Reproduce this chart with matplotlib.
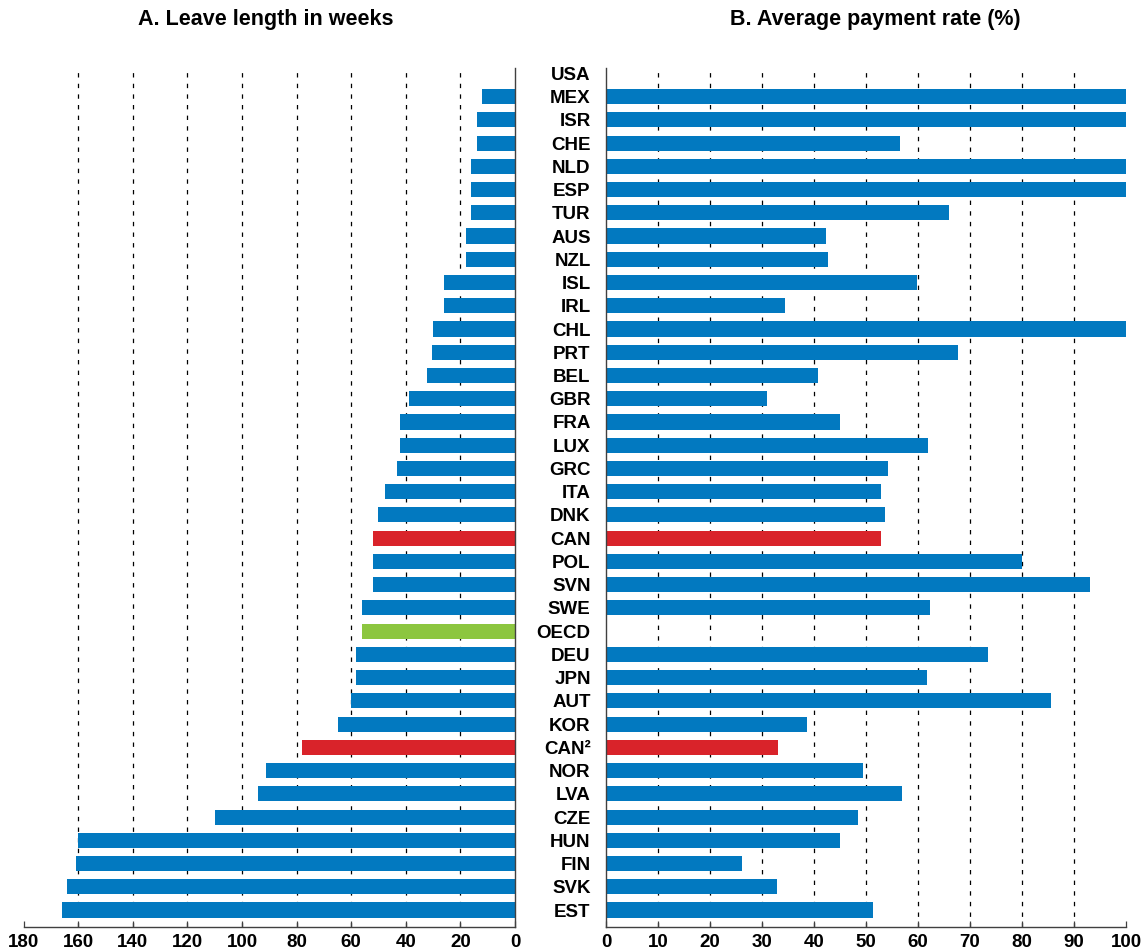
import numpy as np
import matplotlib
matplotlib.use("Agg")
import matplotlib.pyplot as plt

plt.rcParams['font.family'] = ['Liberation Sans', 'DejaVu Sans']
plt.rcParams['font.weight'] = 'bold'

countries = ["USA", "MEX", "ISR", "CHE", "NLD", "ESP", "TUR", "AUS", "NZL", "ISL",
             "IRL", "CHL", "PRT", "BEL", "GBR", "FRA", "LUX", "GRC", "ITA", "DNK",
             "CAN", "POL", "SVN", "SWE", "OECD", "DEU", "JPN", "AUT", "KOR", "CAN²",
             "NOR", "LVA", "CZE", "HUN", "FIN", "SVK", "EST"]

leave_weeks = [0, 12, 14, 14, 16, 16, 16, 18, 18, 26,
               26, 30, 30.4, 32.2, 39, 42, 42, 43.2, 47.6, 50.2,
               52.2, 52, 52, 56, 56, 58.4, 58.4, 60, 65, 78,
               91.2, 94, 110, 160, 161, 164, 166]

payment_rate = [0, 100, 100, 56.5, 100, 100, 66, 42.4, 42.6, 59.8,
                34.4, 100, 67.7, 40.8, 31, 45, 61.9, 54.2, 52.9, 53.7,
                52.9, 80, 93, 62.4, 0, 73.4, 61.7, 85.5, 38.7, 33.1,
                49.5, 56.9, 48.4, 45, 26.1, 32.8, 51.3]

left_ticks = [0, 20, 40, 60, 80, 100, 120, 140, 160, 180]
right_ticks = [0, 10, 20, 30, 40, 50, 60, 70, 80, 90, 100]

BLUE = "#0279c0"
RED = "#d9232a"
GREEN = "#8cc63f"


def bar_color(name):
    if name.startswith("CAN"):
        return RED
    if name == "OECD":
        return GREEN
    return BLUE


colors = [bar_color(c) for c in countries]
y = np.arange(len(countries))

W, H = 1147, 950
fig = plt.figure(figsize=(W / 100, H / 100), dpi=100)
ax1 = fig.add_axes([23.7 / W, 1 - 927 / H, (515 - 23.7) / W, (927 - 68) / H])
ax2 = fig.add_axes([606 / W, 1 - 927 / H, (1126 - 606) / W, (927 - 68) / H])

grid_kw = dict(color="black", linewidth=0.9, linestyle=(0, (3.5, 5)), zorder=0)

# Panel A
ax1.barh(y, leave_weeks, height=0.65, color=colors, zorder=2)
for t in left_ticks[1:-1]:
    ax1.axvline(t, **grid_kw)
ax1.set_xlim(180, 0)
ax1.set_xticks(left_ticks)
ax1.set_yticks([])

# Panel B
ax2.barh(y, payment_rate, height=0.65, color=colors, zorder=2)
for t in right_ticks[1:-1]:
    ax2.axvline(t, **grid_kw)
ax2.set_xlim(0, 100)
ax2.set_xticks(right_ticks)
ax2.set_yticks(y)
ax2.set_yticklabels(countries)

for ax in (ax1, ax2):
    ax.set_ylim(len(countries) - 1 + 0.73, -0.23)
    ax.spines['top'].set_visible(False)
    for s in ax.spines.values():
        s.set_color("#404040")
        s.set_linewidth(1.0)
    ax.tick_params(axis='x', direction='in', length=4, width=0.9,
                   color="#404040", labelsize=13.5, pad=5)
    for lbl in ax.get_xticklabels():
        lbl.set_fontweight('bold')

ax1.spines['left'].set_visible(False)
ax2.spines['right'].set_visible(False)
ax2.tick_params(axis='y', length=0, pad=11, labelsize=13.5)
for lbl in ax2.get_yticklabels():
    lbl.set_fontweight('bold')

fig.text(266 / W, 1 - 20 / H, "A. Leave length in weeks", ha="center", va="center",
         fontsize=15.5, fontweight="bold")
fig.text(875 / W, 1 - 20 / H, "B. Average payment rate (%)", ha="center", va="center",
         fontsize=15.5, fontweight="bold")

fig.savefig("out.png", dpi=100)
